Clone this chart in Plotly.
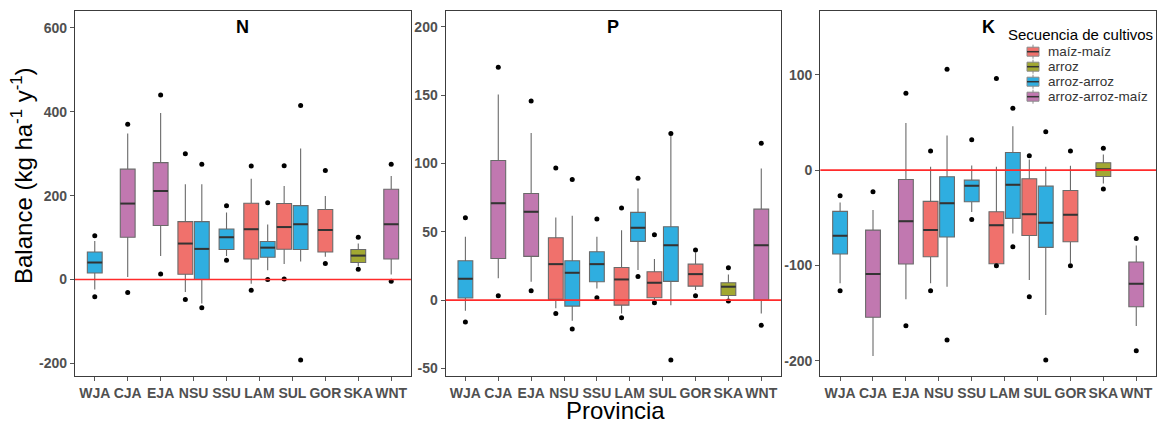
import math
import plotly.graph_objects as go
from plotly.subplots import make_subplots

# Provinces along the x axis
provinces = ["WJA", "CJA", "EJA", "NSU", "SSU", "LAM", "SUL", "GOR", "SKA", "WNT"]

# Crop sequences (legend order) and their fill colours
sequences = ["maíz-maíz", "arroz", "arroz-arroz", "arroz-arroz-maíz"]
seq_colors = ["#F0716C", "#A2A832", "#2FAEE0", "#C178B0"]

# One box per province/sequence combination
box_prov = ["WJA", "CJA", "EJA", "NSU", "NSU", "SSU", "LAM", "LAM",
            "SUL", "SUL", "GOR", "SKA", "WNT"]
box_seq = ["arroz-arroz", "arroz-arroz-maíz", "arroz-arroz-maíz", "maíz-maíz",
           "arroz-arroz", "arroz-arroz", "maíz-maíz", "arroz-arroz",
           "maíz-maíz", "arroz-arroz", "maíz-maíz", "arroz", "arroz-arroz-maíz"]

# Nitrogen balance (kg ha-1 y-1)
N_q1 = [15.5, 100.7, 128.6, 12.6, 0, 71.4, 49, 53, 72, 71.4, 65.7, 40.5, 49]
N_med = [40.5, 181, 211, 85.7, 73, 100.7, 119.8, 76, 125, 131.7, 118, 57, 131.7]
N_q3 = [65.5, 263, 278.6, 138, 138, 120.5, 181.7, 90.5, 181, 176, 166.7, 71.4, 215]
N_lo = [-24, 6, 56, -29.5, -57, 56, -10, 22, 37, 43, 54, 31.7, 12]
N_hi = [92, 348, 397, 227, 227, 160, 240, 131, 223, 312, 199, 85.7, 246.7]
N_min = [-41, -31, 13, -47.6, -67.6, 46, -25.5, 0, 1, -192, 38, 24.5, -4]
N_max = [104.5, 370, 439.5, 300, 275, 176, 270.6, 183, 271, 415, 260, 100.7, 275]

# Phosphorus balance
P_q1 = [1.5, 30.5, 32, 0.5, -4.4, 13.4, -3.7, 43, 1.7, 13.7, 10.2, 3.4, 0]
P_med = [15.6, 71, 64.6, 26.3, 20, 26.3, 15.1, 52.9, 12.7, 40.2, 19, 9.8, 40.2]
P_q3 = [28.8, 102.2, 78, 45.6, 28.8, 35.4, 23.9, 64.2, 20.7, 53.7, 26.3, 12.7, 66.6]
P_lo = [-7.8, 15.9, 13.4, -6, -15.1, 8.5, -9.8, 22, -0.7, -3.7, 7.3, 1.2, -9.8]
P_hi = [46.3, 150.5, 122.4, 60.5, 61.7, 46.3, 51.2, 81.7, 30, 121.2, 34.9, 18.8, 96.3]
P_min = [-16.1, 3.2, 6.8, -9.8, -21.2, 1.7, -12.9, 17.3, -2, -43.9, 3.2, -0.7, -18.5]
P_max = [60.2, 170.5, 145.8, 96.8, 88.3, 59.3, 67.5, 89.3, 47.8, 122, 36.6, 23.7, 114.9]

# Potassium balance
K_q1 = [-88, -154.4, -98.5, -90.9, -70.2, -33.2, -98.2, -50.6, -68.5, -81, -75.1, -6.6, -143.3]
K_med = [-68.8, -109, -53.5, -62.9, -34.6, -16.4, -57.7, -15.4, -46.4, -55.2, -46.8, 1, -119.2]
K_q3 = [-43.3, -62.9, -9.8, -32.8, -7, -10.5, -43.7, 18.5, -9.1, -16.8, -21.3, 7.7, -96.4]
K_lo = [-118.8, -195, -135.5, -118.8, -122.3, -44, -99, -66.4, -115.3, -152, -97.8, -14, -163.5]
K_hi = [-33.9, -41.9, 49.6, 3.5, 36.3, 4.9, 3.5, 46.1, 11.2, 3.5, 4.5, 16.4, -79]
K_min = [-126.5, None, -163.2, -126.5, -178.2, -51.7, -100.3, -80.4, -132.8, -199.2, -100.3, -19.9, -189.4]
K_max = [-26.9, -22.7, 80.7, 20.2, 105.9, 31.8, 96.1, 65, 15, 40.2, 20.2, 23.1, -71.6]

panels = [
    ("N", N_q1, N_med, N_q3, N_lo, N_hi, N_min, N_max, [-230, 640], 200),
    ("P", P_q1, P_med, P_q3, P_lo, P_hi, P_min, P_max, [-55.6, 211.7], 50),
    ("K", K_q1, K_med, K_q3, K_lo, K_hi, K_min, K_max, [-216, 167], 100),
]

FONT = "Liberation Sans, Arial"
BOX_W = 0.45
DODGE = 0.25

# figure geometry (pixels) used to place paper-referenced items
W, H = 1158, 423
ML, MR, MT, MB = 75, 2, 11, 47
PW, PH = W - ML - MR, H - MT - MB


def px_x(p):
    return (p - ML) / PW


def px_y(p):
    return (H - MB - p) / PH


# Dodge positions: provinces with two sequences get boxes side by side
positions = []
for i, (p, s) in enumerate(zip(box_prov, box_seq)):
    base = provinces.index(p)
    same = [j for j, q in enumerate(box_prov) if q == p]
    if len(same) == 1:
        positions.append(base)
    else:
        k = sorted(same, key=lambda j: sequences.index(box_seq[j])).index(i)
        positions.append(base + (-DODGE if k == 0 else DODGE))

fig = make_subplots(rows=1, cols=3, horizontal_spacing=0.03)
domains = [[0.0, 0.3108], [0.3429, 0.6531], [0.6895, 1.0]]

tick_font = dict(family=FONT, size=14, color="#505050", weight="bold")

for pi, (name, q1, med, q3, lo, hi, vmin, vmax, yr, dt) in enumerate(panels):
    col = pi + 1
    for s, c in zip(sequences, seq_colors):
        idx = [i for i, bs in enumerate(box_seq) if bs == s]
        if not idx:
            continue
        fig.add_trace(go.Box(
            x=[positions[i] for i in idx],
            q1=[q1[i] for i in idx], median=[med[i] for i in idx],
            q3=[q3[i] for i in idx],
            lowerfence=[lo[i] for i in idx], upperfence=[hi[i] for i in idx],
            width=BOX_W, whiskerwidth=0,
            fillcolor=c, line=dict(color="#6a6a6a", width=1.1),
            name=s, showlegend=False,
            boxpoints=False, hoverinfo="skip",
        ), row=1, col=col)

    # darker median bars
    mx, my = [], []
    for i in range(len(box_prov)):
        mx += [positions[i] - BOX_W / 2, positions[i] + BOX_W / 2, None]
        my += [med[i], med[i], None]
    fig.add_trace(go.Scatter(x=mx, y=my, mode="lines",
                             line=dict(color="#333333", width=2),
                             showlegend=False, hoverinfo="skip"), row=1, col=col)

    # extreme values
    px_, py_ = [], []
    for i in range(len(box_prov)):
        for v in (vmin[i], vmax[i]):
            if v is not None:
                px_.append(positions[i])
                py_.append(v)
    fig.add_trace(go.Scatter(x=px_, y=py_, mode="markers",
                             marker=dict(color="black", size=5),
                             showlegend=False, hoverinfo="skip"), row=1, col=col)

    # y ticks written with a plain hyphen for negatives
    yt = list(range(int(math.ceil(yr[0] / dt)) * dt, int(yr[1]) + 1, dt))
    xa = "xaxis" if col == 1 else f"xaxis{col}"
    ya = "yaxis" if col == 1 else f"yaxis{col}"
    fig.layout[xa].update(
        domain=domains[pi], range=[-0.6, 9.6],
        tickmode="array", tickvals=list(range(len(provinces))), ticktext=provinces,
        tickangle=0, automargin=False,
        showline=True, linecolor="#3c3c3c", linewidth=1.3, mirror=True,
        ticks="outside", ticklen=4, tickcolor="#555555", tickwidth=1,
        showgrid=False, zeroline=False, tickfont=tick_font,
    )
    fig.layout[ya].update(
        range=yr, tickmode="array", tickvals=yt, ticktext=[str(v) for v in yt],
        automargin=False,
        showline=True, linecolor="#3c3c3c", linewidth=1.3, mirror=True,
        ticks="outside", ticklen=4, tickcolor="#555555", tickwidth=1,
        showgrid=False, zeroline=False, tickfont=tick_font,
    )

    xref = "x" if col == 1 else f"x{col}"
    yref = "y" if col == 1 else f"y{col}"
    # reference line at zero balance
    fig.add_shape(type="line", xref=f"{xref} domain", yref=yref,
                  x0=0, x1=1, y0=0, y1=0,
                  line=dict(color="#FF2B2B", width=1.6), layer="above")
    # panel label
    fig.add_annotation(text=f"<b>{name}</b>", xref="paper", yref="paper",
                       x=(domains[pi][0] + domains[pi][1]) / 2, y=px_y(27),
                       showarrow=False, xanchor="center", yanchor="middle",
                       font=dict(family=FONT, size=18, color="black"))

# Legend drawn inside the K panel
fig.add_annotation(text="Secuencia de cultivos", xref="paper", yref="paper",
                   x=px_x(1006), y=px_y(35), showarrow=False,
                   xanchor="left", yanchor="middle",
                   font=dict(family=FONT, size=15, color="black"))
for k, (s, c) in enumerate(zip(sequences, seq_colors)):
    cy = 51.7 + 15 * k
    cx = 1033
    fig.add_shape(type="line", xref="paper", yref="paper",
                  x0=px_x(cx), x1=px_x(cx), y0=px_y(cy - 7), y1=px_y(cy + 7),
                  line=dict(color="#8a8a8a", width=1))
    fig.add_shape(type="rect", xref="paper", yref="paper",
                  x0=px_x(cx - 6), x1=px_x(cx + 6), y0=px_y(cy - 4.5), y1=px_y(cy + 4.5),
                  fillcolor=c, line=dict(color="#8a8a8a", width=1))
    fig.add_shape(type="line", xref="paper", yref="paper",
                  x0=px_x(cx - 6), x1=px_x(cx + 6), y0=px_y(cy), y1=px_y(cy),
                  line=dict(color="#333333", width=1.5))
    fig.add_annotation(text=s, xref="paper", yref="paper",
                       x=px_x(1046), y=px_y(cy), showarrow=False,
                       xanchor="left", yanchor="middle",
                       font=dict(family=FONT, size=13.5, color="#333333"))

fig.add_annotation(text="Balance (kg ha<sup>-1</sup> y<sup>-1</sup>)",
                   xref="paper", yref="paper", x=px_x(22), y=px_y(176),
                   textangle=-90, showarrow=False, xanchor="center", yanchor="middle",
                   font=dict(family=FONT, size=24, color="black"))
fig.add_annotation(text="Provincia", xref="paper", yref="paper",
                   x=px_x(615), y=px_y(410.5), showarrow=False,
                   xanchor="center", yanchor="middle",
                   font=dict(family=FONT, size=24, color="black"))

fig.update_layout(
    width=W, height=H,
    margin=dict(l=ML, r=MR, t=MT, b=MB, autoexpand=False),
    paper_bgcolor="white", plot_bgcolor="white",
    boxmode="overlay", showlegend=False,
)

fig.write_html("out.html")
